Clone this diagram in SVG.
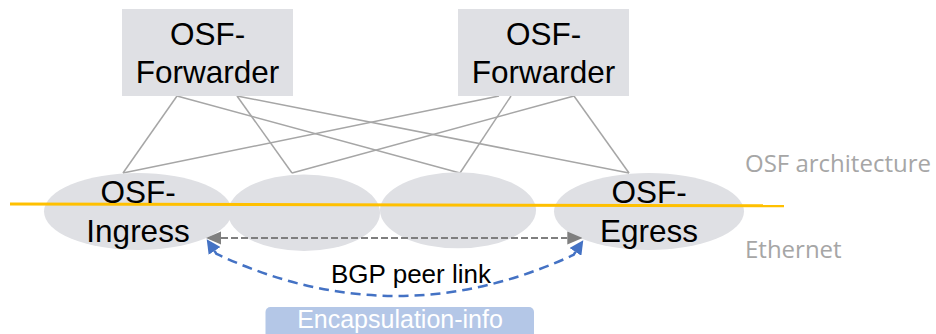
<svg xmlns="http://www.w3.org/2000/svg" width="936" height="334" viewBox="0 0 936 334">
  <style>
    .node { fill: #DFE0E4; }
    .lbl { font-family: "Liberation Sans", Arial, sans-serif; font-size: 31.5px; fill: #000; text-anchor: middle; }
    .side { font-family: "Open Sans", "Noto Sans", sans-serif; font-size: 24px; fill: #A6A6A6; }
    .wire { stroke: #A6A6A6; stroke-width: 1.5; fill: none; }
  </style>
  <defs>
    <marker id="grayHead" markerUnits="userSpaceOnUse" markerWidth="15" markerHeight="14" refX="0" refY="7" orient="auto-start-reverse">
      <path d="M0,0.5 L15,7 L0,13.5 z" fill="#7F7F7F"/>
    </marker>
    <marker id="blueHead" markerUnits="userSpaceOnUse" markerWidth="14" markerHeight="14" refX="0" refY="7" orient="auto-start-reverse">
      <path d="M0,0 L14,7 L0,14 z" fill="#4472C4"/>
    </marker>
  </defs>

  <rect x="0" y="0" width="936" height="334" fill="#FFFFFF"/>

  <g id="connectors">
    <line class="wire" x1="177" y1="96" x2="123" y2="173"/>
    <line class="wire" x1="177" y1="96" x2="460" y2="173"/>
    <line class="wire" x1="237" y1="96" x2="292" y2="173"/>
    <line class="wire" x1="237" y1="96" x2="629" y2="173"/>
    <line class="wire" x1="499" y1="96" x2="123" y2="173"/>
    <line class="wire" x1="511" y1="96" x2="460" y2="173"/>
    <line class="wire" x1="574" y1="96" x2="292" y2="173"/>
    <line class="wire" x1="574" y1="96" x2="629" y2="173"/>
  </g>

  <g id="forwarder1">
    <rect class="node" x="122" y="9" width="171" height="87"/>
    <text class="lbl" x="207.5" y="45">OSF-</text>
    <text class="lbl" x="207.5" y="83">Forwarder</text>
  </g>
  <g id="forwarder2">
    <rect class="node" x="458" y="9" width="171" height="87"/>
    <text class="lbl" x="543.5" y="45">OSF-</text>
    <text class="lbl" x="543.5" y="83">Forwarder</text>
  </g>

  <g id="mid1">
    <ellipse class="node" cx="304" cy="212.7" rx="76" ry="38.3"/>
  </g>
  <g id="mid2">
    <ellipse class="node" cx="458" cy="210.3" rx="78" ry="38"/>
  </g>
  <g id="ingress">
    <ellipse class="node" cx="138" cy="211.5" rx="94" ry="38.5"/>
  </g>
  <g id="egress">
    <ellipse class="node" cx="649" cy="211.5" rx="95" ry="38.5"/>
  </g>

  <g id="ethernet-line">
    <line x1="10" y1="204" x2="784" y2="205.8" stroke="#FFC000" stroke-width="3"/>
  </g>

  <g id="ingress-label">
    <text class="lbl" x="138" y="202.5">OSF-</text>
    <text class="lbl" x="138" y="241.5">Ingress</text>
  </g>
  <g id="egress-label">
    <text class="lbl" x="649" y="202.5">OSF-</text>
    <text class="lbl" x="649" y="241.5">Egress</text>
  </g>

  <g id="links">
    <line x1="221" y1="238" x2="567.3" y2="238" stroke="#7F7F7F" stroke-width="2" stroke-dasharray="7 3" marker-start="url(#grayHead)" marker-end="url(#grayHead)"/>
    <path d="M214.5,250.9 L216.5,253.9 Q395,337.6 573.5,254.9 L575.5,251.9" fill="none" stroke="#4472C4" stroke-width="2.5" stroke-dasharray="10 6" marker-start="url(#blueHead)" marker-end="url(#blueHead)"/>
    <text x="411" y="283" font-family="Liberation Sans, Arial, sans-serif" font-size="26" fill="#000" text-anchor="middle">BGP peer link</text>
  </g>

  <g id="encap">
    <rect x="265.5" y="307" width="268.5" height="40" rx="5" fill="#B4C7E7"/>
    <text x="400" y="328" font-family="Liberation Sans, Arial, sans-serif" font-size="25" fill="#FFFFFF" text-anchor="middle">Encapsulation-info</text>
  </g>

  <g id="side-labels">
    <text class="side" x="745" y="171.5">OSF architecture</text>
    <text class="side" x="745" y="258">Ethernet</text>
  </g>
</svg>
